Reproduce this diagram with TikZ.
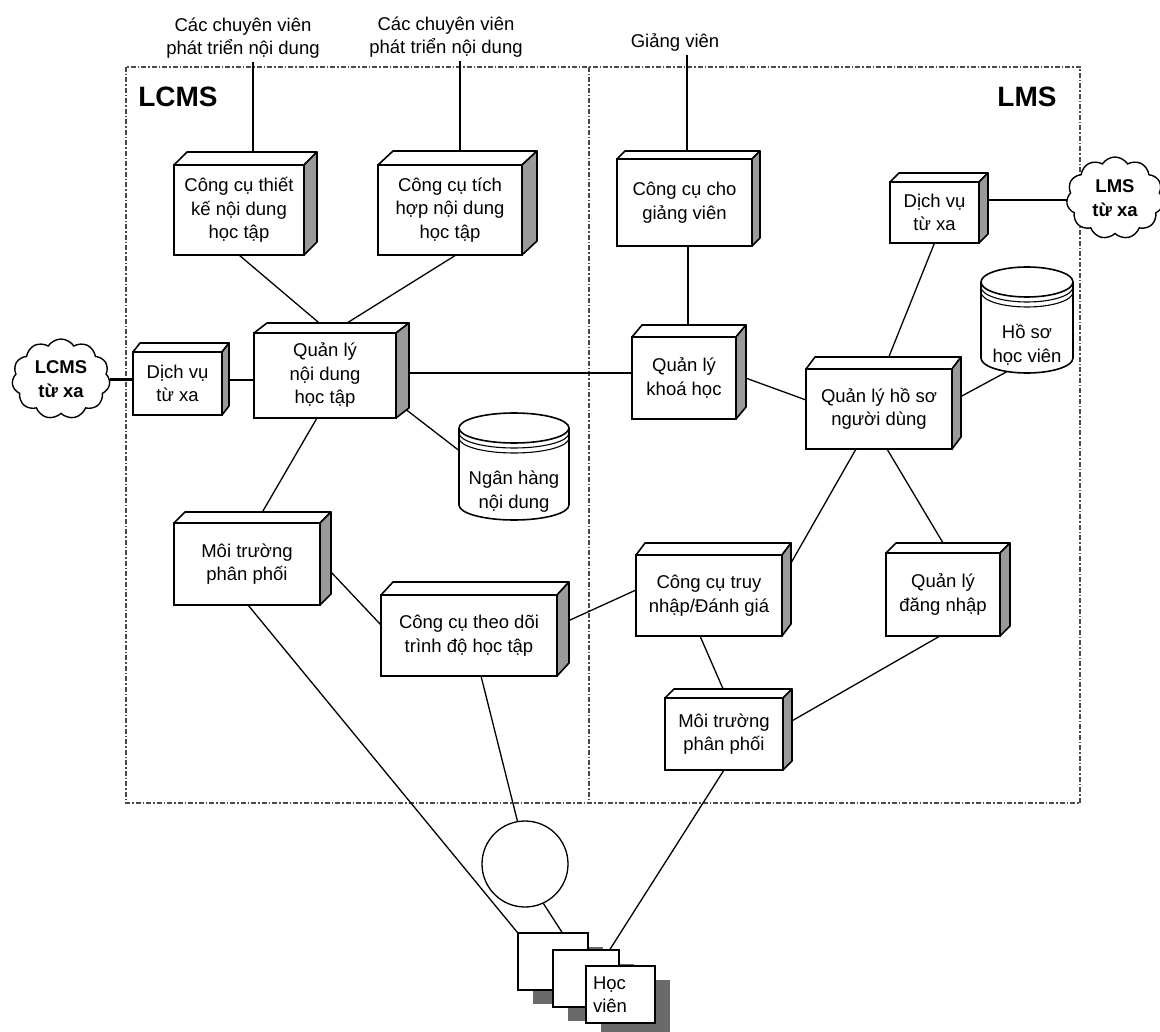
\documentclass[tikz,border=0pt]{standalone}
\usepackage{fontspec}
\setmainfont{Liberation Sans}
\usetikzlibrary{calc,backgrounds,shapes.symbols,shadows}

\definecolor{sidegray}{HTML}{9A9A9A}
\definecolor{shadegray}{HTML}{6A6A6A}
\definecolor{framegray}{HTML}{4A4A4A}

\tikzset{
  txt/.style={font=\fontsize{18.5}{23.5}\selectfont, align=center},
  boxst/.style={draw, line width=1.6pt, fill=white, inner sep=2pt, outer sep=0pt, txt},
  facest/.style={draw, line width=1.6pt, line join=round},
  conn/.style={line width=1.3pt},
  dashframe/.style={draw=framegray, line width=1.1pt, dash pattern=on 5pt off 2pt on 1.5pt off 2pt},
  cloudst/.style={cloud, cloud puffs=11, cloud puff arc=115, aspect=1.25, draw, fill=white,
    line width=1.4pt, inner sep=0pt, align=center,
    font=\bfseries\fontsize{18.5}{23.5}\selectfont},
  card/.style={draw, fill=white, line width=1.4pt, inner sep=0pt,
    general shadow={fill=shadegray, shadow xshift=15pt, shadow yshift=-14pt}},
  bigtitle/.style={font=\bfseries\fontsize{28}{30}\selectfont},
}

% 3D node box: name, left, top, right, bottom, depth x, depth y, text
\newcommand\nodebox[8]{%
  \node[boxst, minimum width={#4-#2}, minimum height={#5-#3}] (#1)
    at ({(#2+#4)/2},{(#3+#5)/2}) {#8};
  \draw[facest, fill=white] (#1.north west) -- ++(#6,-#7)
    -- ($(#1.north east)+(#6,-#7)$) -- (#1.north east) -- cycle;
  \draw[facest, fill=sidegray] (#1.north east) -- ++(#6,-#7)
    -- ($(#1.south east)+(#6,-#7)$) -- (#1.south east) -- cycle;
}

% data store drum: name, centre x, top, bottom, half width, rim radius, text
\newcommand\drum[7]{%
  \node[inner sep=0pt, outer sep=0pt, minimum width={2*#5}, minimum height={#4-#3}] (#1)
    at (#2,{(#3+#4)/2}) {};
  \draw[facest, fill=white] ({#2-#5},{#3+#6}) -- ({#2-#5},{#4-#6})
    arc[start angle=180, end angle=0, x radius=#5, y radius=#6] -- ({#2+#5},{#3+#6});
  \draw[facest, fill=white] (#2,{#3+#6}) ellipse[x radius=#5, y radius=#6];
  \draw[line width=1.1pt] ({#2-#5},{#3+#6+5})
    arc[start angle=180, end angle=0, x radius=#5, y radius=#6];
  \draw[line width=1.1pt] ({#2-#5},{#3+#6+10})
    arc[start angle=180, end angle=0, x radius=#5, y radius=#6];
  \node[txt] (#1-t) at (#2,{(#3+#4)/2+25}) {#7};
}

\begin{document}
\begin{tikzpicture}[x=1pt,y=-1pt]
\useasboundingbox (0,0) rectangle (1160,1032);

% actors above the frame
\node[txt] (lab1) at (243,38) {Các chuyên viên\\phát triển nội dung};
\node[txt] (lab2) at (446,37) {Các chuyên viên\\phát triển nội dung};
\node[txt] (lab3) at (675,43) {Giảng viên};

% system titles
\node[bigtitle] (lcmslab) at (178,97) {LCMS};
\node[bigtitle] (lmslab) at (1027,97) {LMS};

% LCMS side
\nodebox{tk}{174}{165}{304}{255}{13}{13}{Công cụ thiết\\kế nội dung\\học tập}
\nodebox{th}{378}{165}{522}{255}{15}{14}{Công cụ tích\\hợp nội dung\\học tập}
\nodebox{qlnd}{254}{333}{396}{418}{13}{10}{Quản lý\\nội dung\\học tập}
\nodebox{dvc}{133}{352}{222}{415}{7}{9}{Dịch vụ\\từ xa}
\nodebox{mtc}{174}{523}{320}{605}{11}{11}{Môi trường\\phân phối}
\nodebox{td}{381}{595}{557}{676}{12}{13}{Công cụ theo dõi\\trình độ học tập}
\drum{nh}{514}{413}{520}{55}{15}{Ngân hàng\\nội dung}

% LMS side
\nodebox{gv}{617}{159}{752}{246}{8}{8}{Công cụ cho\\giảng viên}
\nodebox{dvl}{890}{182}{979}{243}{9}{9}{Dịch vụ\\từ xa}
\nodebox{qlkh}{632}{337}{736}{419}{10}{12}{Quản lý\\khoá học}
\nodebox{qlhs}{806}{369}{952}{449}{9}{12}{Quản lý hồ sơ\\người dùng}
\nodebox{tn}{636}{555}{782}{636}{9}{12}{Công cụ truy\\nhập/Đánh giá}
\nodebox{dn}{886}{553}{1000}{636}{10}{10}{Quản lý\\đăng nhập}
\nodebox{mtl}{665}{698}{783}{770}{9}{9}{Môi trường\\phân phối}
\drum{hs}{1027}{267}{373}{46}{15}{Hồ sơ\\học viên}

% remote systems
\node[cloudst, minimum width=98pt, minimum height=80pt] (lcms) at (61,379) {LCMS\\từ xa};
\node[cloudst, minimum width=97pt, minimum height=82pt] (lms) at (1115,198) {LMS\\từ xa};

% tracking circle and learners
\node[circle, draw, fill=white, line width=1.3pt, minimum size=86pt, inner sep=0pt] (circ) at (525,864) {};
\node[card, minimum width=70pt, minimum height=57pt] (c1) at (553,961.5) {};
\node[card, minimum width=66pt, minimum height=57pt] (c2) at (586,978.5) {};
\node[card, minimum width=69pt, minimum height=57pt, txt, text width=55pt, align=left] (c3) at (620.5,994.5) {Học\\viên};

\begin{scope}[on background layer]
  % system boundaries
  \draw[dashframe] (126,67) rectangle (1080,803);
  \draw[dashframe] (589,67) -- (589,803);

  % connectors
  \draw[conn] ([xshift=14pt]tk.north) -- ([xshift=14pt]tk.north |- lab1.south);
  \draw[conn] ([xshift=10pt]th.north) -- ([xshift=10pt]th.north |- lab2.south);
  \draw[conn] ([xshift=2.5pt]gv.north) -- ([xshift=2.5pt]gv.north |- lab3.south);
  \draw[conn] ([xshift=4pt]qlkh.north) -- ([xshift=4pt]qlkh.north |- gv.south);
  \draw[conn] (tk.south) -- ([xshift=6pt]qlnd.north);
  \draw[conn] ([xshift=6pt]th.south) -- ([xshift=6pt]qlnd.north);
  \draw[conn] ([yshift=3.5pt]dvc.east) -- ([yshift=3.5pt]dvc.east -| qlnd.west);
  \draw[line width=3pt] (lcms.east) -- (lcms.east -| dvc.west);
  \draw[conn] ([yshift=2.5pt]qlnd.east) -- ([yshift=2.5pt]qlnd.east -| qlkh.west);
  \draw[conn] ([xshift=8pt,yshift=10pt]qlnd.south east) -- ([yshift=16pt]nh.west);
  \draw[conn] ([xshift=-8pt]qlnd.south) -- ([xshift=9pt]mtc.north);
  \draw[conn] ([xshift=11pt,yshift=-8pt]mtc.east) -- ([yshift=10.5pt]td.west);
  \draw[conn] ([xshift=1pt]mtc.south) -- (c1.north west);
  \draw[conn] ([xshift=12pt]td.south) -- (circ.100);
  \draw[conn] (circ.295) -- ([xshift=9pt]c1.north);
  \draw[conn] ([yshift=5.5pt]tn.west) -- ([xshift=12pt,yshift=15pt]td.east);
  \draw[conn] ([xshift=9pt,yshift=-8pt]tn.north east) -- ([xshift=-23pt]qlhs.south);
  \draw[conn] ([xshift=8pt]qlhs.south) -- ([xshift=6pt]dn.north);
  \draw[conn] ([xshift=-9pt]tn.south) -- ([xshift=3pt]mtl.north);
  \draw[conn] ([xshift=-3pt]dn.south) -- ([xshift=7pt,yshift=12pt]mtl.east);
  \draw[conn] (mtl.south) -- ([xshift=24pt]c2.north);
  \draw[conn] ([yshift=3.5pt]qlkh.east) -- ([yshift=9pt]qlhs.west);
  \draw[conn] (dvl.south) -- ([xshift=5pt]qlhs.north);
  \draw[conn] ([yshift=12.5pt]dvl.east) -- ([yshift=12.5pt]dvl.east -| lms.west);
  \draw[conn] ([xshift=-17pt,yshift=3pt]hs.south) -- ([xshift=8pt,yshift=12pt]qlhs.east);
\end{scope}
\end{tikzpicture}
\end{document}
